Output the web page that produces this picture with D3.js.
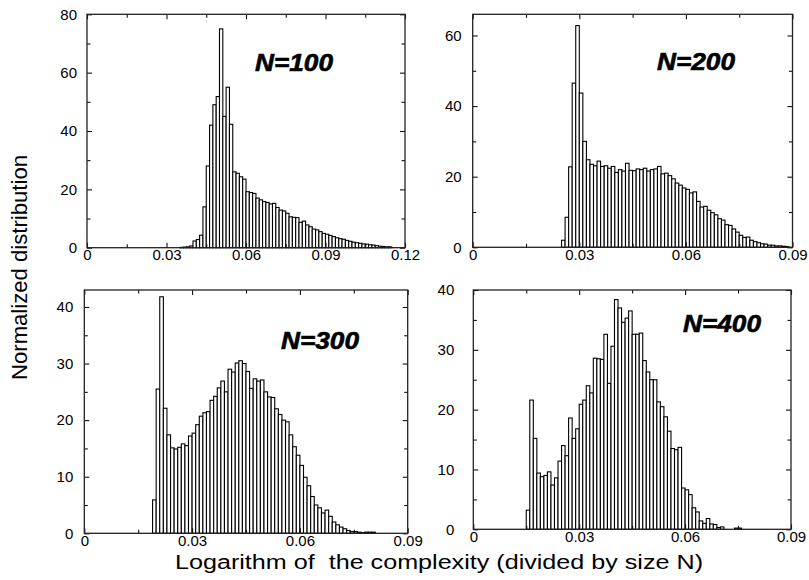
<!DOCTYPE html>
<html><head><meta charset="utf-8">
<script src="https://cdn.jsdelivr.net/npm/d3@7"></script>
<style>
html,body{margin:0;padding:0;background:#fff;}
svg{display:block;font-family:"Liberation Sans",Arial,Helvetica,sans-serif;}
</style></head><body>
<svg id="chart" width="809" height="580"></svg>
<script>
// ---------- data ----------
const panelLabels = ["N=100", "N=200", "N=300", "N=400"];

const binStart100 = 0.035, binWidth100 = 0.00125;
const values100 = [0.1, 0.2, 0.3, 0.6, 2.3, 2.8, 4.3, 14.0, 28.0, 42.0, 49.0, 51.8, 75.0,
  45.0, 55.0, 42.3, 26.0, 25.5, 24.3, 23.5, 19.2, 18.9, 18.6, 17.0, 16.4, 15.8, 15.5, 15.0,
  15.2, 13.8, 12.9, 12.6, 11.8, 10.6, 10.4, 10.3, 8.7, 9.1, 7.8, 7.2, 6.4, 6.1, 5.5, 4.9,
  4.6, 4.2, 3.8, 3.4, 3.1, 2.9, 2.5, 2.2, 1.9, 1.7, 1.5, 1.3, 1.2, 1.0, 0.9, 0.7, 0.5,
  0.4, 0.3, 0.3];

const binStart200 = 0.025, binWidth200 = 0.001;
const values200 = [2.0, 8.5, 22.8, 46.5, 62.8, 43.7, 30.0, 24.8, 23.5, 23.1, 24.4, 22.9,
  23.1, 22.4, 22.9, 21.2, 22.0, 21.6, 23.8, 21.8, 21.7, 22.2, 22.0, 22.4, 21.6, 22.0, 22.2,
  22.9, 20.8, 21.0, 20.3, 19.4, 18.2, 17.6, 16.8, 16.4, 15.4, 15.7, 13.0, 11.4, 11.6, 10.5,
  9.8, 9.2, 8.1, 7.7, 6.4, 6.2, 5.2, 4.3, 3.4, 2.8, 2.9, 2.0, 1.6, 1.3, 1.0, 0.9, 0.6, 0.6,
  0.4, 0.4, 0.3, 0.2];

const binStart300 = 0.019, binWidth300 = 0.001;
const values300 = [5.9, 25.5, 41.8, 22.1, 17.4, 15.1, 14.9, 15.2, 15.8, 15.5, 17.2, 17.7,
  19.2, 20.7, 21.3, 21.5, 23.5, 24.2, 25.7, 26.9, 25.0, 29.0, 28.5, 30.1, 30.5, 30.0, 28.6,
  25.6, 27.3, 26.9, 27.1, 25.0, 24.1, 24.0, 22.0, 21.0, 20.0, 19.7, 17.4, 15.3, 13.8, 12.0,
  9.9, 8.4, 6.5, 5.0, 4.5, 3.6, 4.1, 3.0, 2.0, 1.5, 1.1, 0.8, 0.5, 0.3, 0.3, 0.2, 0.1, 0.2,
  0.2, 0.2];

const binStart400 = 0.015, binWidth400 = 0.001;
const values400 = [3.2, 21.6, 15.2, 9.4, 8.8, 9.0, 9.6, 7.4, 8.6, 11.4, 14.0, 12.3, 18.6,
  15.2, 16.8, 20.9, 21.6, 24.0, 22.8, 28.6, 28.5, 28.4, 32.6, 24.4, 30.6, 38.4, 37.0, 34.6,
  35.3, 36.5, 32.6, 32.6, 32.8, 28.2, 26.3, 25.0, 25.0, 21.3, 20.5, 18.8, 16.4, 13.5, 13.3,
  13.7, 6.9, 6.6, 5.8, 3.6, 2.9, 1.4, 1.0, 1.8, 0.9, 0.8, 0.3, 0.4, 0, 0, 0, 0.2, 0.2];

const xTickLabels100 = [0, 0.03, 0.06, 0.09, 0.12];
const xTickLabels = [0, 0.03, 0.06, 0.09];
const yTicks100 = [0, 20, 40, 60, 80];
const yTicks200 = [0, 20, 40, 60];
const yTicks300 = [0, 10, 20, 30, 40];
const yTicks400 = [0, 10, 20, 30, 40];

const xTitle = "Logarithm of  the complexity (divided by size N)";
const yTitle = "Normalized distribution";

// ---------- layout ----------
const panels = [
  {label: panelLabels[0], start: binStart100, width: binWidth100, values: values100,
   xMax: 0.12, yMax: 80, xTicks: xTickLabels100, yTicks: yTicks100, yMinorStep: 10,
   left: 87, right: 405, top: 14.3, bottom: 247.7, ylPad: 10, lx: 255, ly: 70.5},
  {label: panelLabels[1], start: binStart200, width: binWidth200, values: values200,
   xMax: 0.09, yMax: 66, xTicks: xTickLabels, yTicks: yTicks200, yMinorStep: 10,
   left: 472.7, right: 792.5, top: 14.3, bottom: 247.3, ylPad: 11, lx: 657, ly: 70},
  {label: panelLabels[2], start: binStart300, width: binWidth300, values: values300,
   xMax: 0.09, yMax: 43, xTicks: xTickLabels, yTicks: yTicks300, yMinorStep: 5,
   left: 84.3, right: 407.7, top: 290, bottom: 533.3, ylPad: 11, lx: 281, ly: 349},
  {label: panelLabels[3], start: binStart400, width: binWidth400, values: values400,
   xMax: 0.09, yMax: 40, xTicks: xTickLabels, yTicks: yTicks400, yMinorStep: 5,
   left: 473.3, right: 791, top: 290, bottom: 529.3, ylPad: 19, lx: 683, ly: 331.5}
];

const svg = d3.select("#chart");
const fmtX = d => d === 0 ? "0" : d3.format(".2f")(d);

function styleAxis(g) {
  g.select(".domain").remove();
  g.selectAll(".tick line").attr("stroke", "#111").attr("stroke-width", 1.1);
  g.selectAll("text").attr("font-size", 15).attr("fill", "#000")
    .attr("font-family", "'Liberation Sans', Arial, Helvetica, sans-serif");
}

panels.forEach(p => {
  const g = svg.append("g");
  const x = d3.scaleLinear().domain([0, p.xMax]).range([p.left, p.right]);
  const y = d3.scaleLinear().domain([0, p.yMax]).range([p.bottom, p.top]);
  const bins = p.values.map((v, i) => ({x0: p.start + i * p.width, x1: p.start + (i + 1) * p.width, v}))
    .filter(d => d.v > 0);

  g.append("g").selectAll("rect").data(bins).join("rect")
    .attr("x", d => x(d.x0)).attr("width", d => x(d.x1) - x(d.x0))
    .attr("y", d => y(d.v)).attr("height", d => y(0) - y(d.v))
    .attr("fill", "#fff").attr("stroke", "#000").attr("stroke-width", 1.1);

  const xMinor = d3.range(0.015, p.xMax, 0.03);
  const yMinor = d3.range(p.yMinorStep, p.yMax, p.yMinorStep).filter(v => !p.yTicks.includes(v));

  g.append("g").attr("transform", `translate(0,${p.bottom})`)
    .call(d3.axisBottom(x).tickValues(p.xTicks).tickFormat(fmtX).tickSize(-5).tickPadding(2)).call(styleAxis);
  g.append("g").attr("transform", `translate(0,${p.bottom})`)
    .call(d3.axisBottom(x).tickValues(xMinor).tickFormat("").tickSize(-3.5)).call(styleAxis);
  g.append("g").attr("transform", `translate(0,${p.top})`)
    .call(d3.axisTop(x).tickValues(p.xTicks).tickFormat("").tickSize(-5)).call(styleAxis);
  g.append("g").attr("transform", `translate(0,${p.top})`)
    .call(d3.axisTop(x).tickValues(xMinor).tickFormat("").tickSize(-3.5)).call(styleAxis);
  g.append("g").attr("transform", `translate(${p.left},0)`)
    .call(d3.axisLeft(y).tickValues(p.yTicks).tickFormat(d3.format("d")).tickSize(-5).tickPadding(p.ylPad)).call(styleAxis);
  g.append("g").attr("transform", `translate(${p.left},0)`)
    .call(d3.axisLeft(y).tickValues(yMinor).tickFormat("").tickSize(-3.5)).call(styleAxis);
  g.append("g").attr("transform", `translate(${p.right},0)`)
    .call(d3.axisRight(y).tickValues(p.yTicks).tickFormat("").tickSize(-5)).call(styleAxis);
  g.append("g").attr("transform", `translate(${p.right},0)`)
    .call(d3.axisRight(y).tickValues(yMinor).tickFormat("").tickSize(-3.5)).call(styleAxis);

  g.append("rect").attr("x", p.left).attr("y", p.top)
    .attr("width", p.right - p.left).attr("height", p.bottom - p.top)
    .attr("fill", "none").attr("stroke", "#222").attr("stroke-width", 1.3);

  g.append("text").attr("x", p.lx).attr("y", p.ly)
    .attr("font-size", 23).attr("font-weight", "bold").attr("font-style", "italic")
    .attr("textLength", 78).attr("lengthAdjust", "spacingAndGlyphs")
    .attr("stroke", "#000").attr("stroke-width", 0.6)
    .attr("fill", "#000").text(p.label);
});

svg.append("text").attr("transform", "translate(26.5,267.5) rotate(-90)")
  .attr("text-anchor", "middle").attr("font-size", 22).attr("fill", "#000")
  .attr("textLength", 225).attr("lengthAdjust", "spacingAndGlyphs")
  .text(yTitle);

svg.append("text").attr("x", 175).attr("y", 568.5)
  .attr("font-size", 19.5).attr("fill", "#000").style("white-space", "pre")
  .attr("textLength", 528).attr("lengthAdjust", "spacingAndGlyphs")
  .text(xTitle);
</script>
</body></html>
